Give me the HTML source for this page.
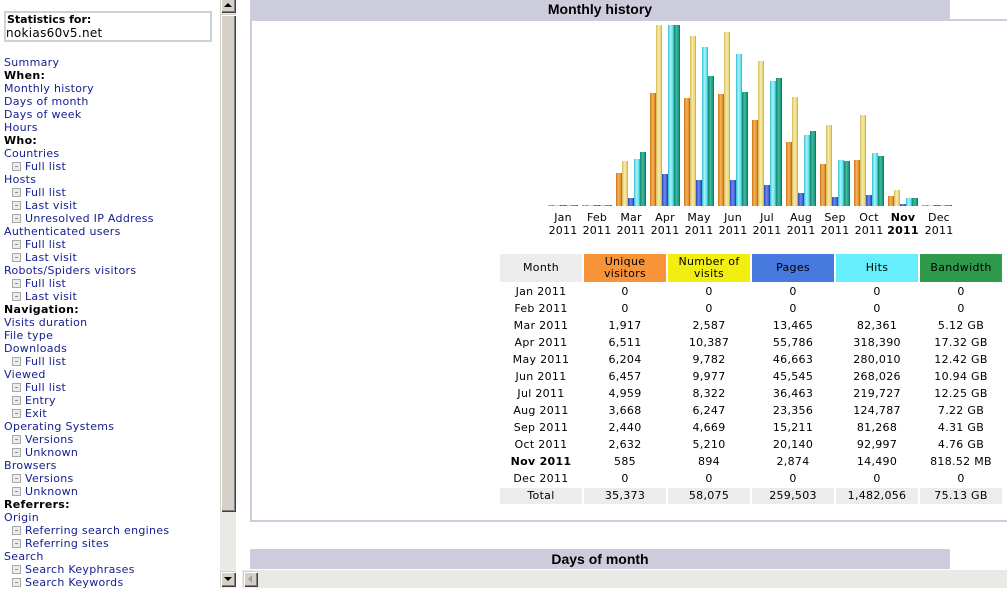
<!DOCTYPE html>
<html><head><meta charset="utf-8">
<style>
body{margin:0;width:1007px;height:588px;overflow:hidden;background:#fff;position:relative;font-family:"DejaVu Sans","Liberation Sans",sans-serif;}
.a{position:absolute;white-space:nowrap;}
#side{position:absolute;left:4px;top:56px;font-size:11px;letter-spacing:0.3px;line-height:13px;color:#15208f;}
#side div{height:13px;position:relative;white-space:nowrap;}
#side .h{color:#000;font-weight:bold;}
#side .sub{padding-left:21px;}
#side .sub i{position:absolute;left:8px;top:2px;width:7px;height:7px;border:1px solid #a8a8a8;background:#ececec;}
#side .sub i:after{content:"";position:absolute;left:2px;top:3px;width:3px;height:1px;background:#909090;}
.bar{position:absolute;bottom:0;width:6px;}
.o{background:linear-gradient(to right,#c87418,#f6b258 40%,#e58e2c 80%,#a65a10);}
.y{background:linear-gradient(to right,#d4bc5c,#f8eaa4 40%,#ead67a 80%,#b89e3e);}
.b{background:linear-gradient(to right,#2646b4,#6a8af0 40%,#4262d8 80%,#1e368e);}
.c{background:linear-gradient(to right,#36bccc,#a4f4fc 40%,#62e0ec 80%,#2ea4b4);}
.t{background:linear-gradient(to right,#0e846c,#42baa2 40%,#1a9a80 80%,#086656);}
.ml{position:absolute;top:211px;width:34px;text-align:center;font-size:11px;line-height:13px;letter-spacing:0.2px;color:#000;}
.cell{position:absolute;width:82px;text-align:center;font-size:11px;letter-spacing:0.3px;color:#000;}
.hd{top:254px;height:28px;display:flex;align-items:center;justify-content:center;line-height:12px;}
.sb{background:#d4d0c8;border-top:1px solid #d4d0c8;border-left:1px solid #d4d0c8;box-shadow:inset 1px 1px 0 #fff,inset -1px -1px 0 #404040,inset -2px -2px 0 #808080;box-sizing:border-box;}
</style></head><body>

<!-- Left frame -->
<div class="a" style="left:4px;top:11px;width:208px;height:31px;border:2px solid #cfcfd6;box-sizing:border-box;"></div>
<div class="a" style="left:7px;top:13px;font-size:11px;font-weight:bold;line-height:13px;color:#000;">Statistics for:</div>
<div class="a" style="left:6px;top:26px;font-size:12px;letter-spacing:0.3px;line-height:14px;color:#000;">nokias60v5.net</div>

<div id="side">
<div>Summary</div>
<div class="h">When:</div>
<div>Monthly history</div>
<div>Days of month</div>
<div>Days of week</div>
<div>Hours</div>
<div class="h">Who:</div>
<div>Countries</div>
<div class="sub"><i></i>Full list</div>
<div>Hosts</div>
<div class="sub"><i></i>Full list</div>
<div class="sub"><i></i>Last visit</div>
<div class="sub"><i></i>Unresolved IP Address</div>
<div>Authenticated users</div>
<div class="sub"><i></i>Full list</div>
<div class="sub"><i></i>Last visit</div>
<div>Robots/Spiders visitors</div>
<div class="sub"><i></i>Full list</div>
<div class="sub"><i></i>Last visit</div>
<div class="h">Navigation:</div>
<div>Visits duration</div>
<div>File type</div>
<div>Downloads</div>
<div class="sub"><i></i>Full list</div>
<div>Viewed</div>
<div class="sub"><i></i>Full list</div>
<div class="sub"><i></i>Entry</div>
<div class="sub"><i></i>Exit</div>
<div>Operating Systems</div>
<div class="sub"><i></i>Versions</div>
<div class="sub"><i></i>Unknown</div>
<div>Browsers</div>
<div class="sub"><i></i>Versions</div>
<div class="sub"><i></i>Unknown</div>
<div class="h">Referrers:</div>
<div>Origin</div>
<div class="sub"><i></i>Referring search engines</div>
<div class="sub"><i></i>Referring sites</div>
<div>Search</div>
<div class="sub"><i></i>Search Keyphrases</div>
<div class="sub"><i></i>Search Keywords</div>
</div>

<!-- vertical scrollbar -->
<div class="a" style="left:220px;top:0;width:16px;height:588px;background:#ebe9e5;"></div>
<div class="a sb" style="left:220px;top:-3px;width:16px;height:16px;"></div>
<div class="a" style="left:224px;top:3px;width:0;height:0;border-left:4px solid transparent;border-right:4px solid transparent;border-bottom:4px solid #000;"></div>
<div class="a sb" style="left:220px;top:14px;width:16px;height:498px;"></div>
<div class="a sb" style="left:220px;top:571px;width:16px;height:16px;"></div>
<div class="a" style="left:224px;top:577px;width:0;height:0;border-left:4px solid transparent;border-right:4px solid transparent;border-top:4px solid #000;"></div>

<!-- horizontal scrollbar -->
<div class="a" style="left:242px;top:570px;width:765px;height:18px;background:#ebe9e5;"></div>
<div class="a sb" style="left:243px;top:571px;width:15px;height:16px;"></div>
<div class="a" style="left:248px;top:575px;width:0;height:0;border-top:4px solid transparent;border-bottom:4px solid transparent;border-right:4px solid #a0a0a0;"></div>

<!-- Right frame: Monthly history -->
<div class="a" style="left:250px;top:0;width:700px;height:19px;background:#ccccdd;"></div>
<div class="a" style="left:250px;top:1px;width:700px;text-align:center;font-family:'Liberation Sans',sans-serif;font-weight:bold;font-size:14px;line-height:17px;color:#000;">Monthly history</div>
<div class="a" style="left:250px;top:19px;width:800px;height:503px;border:2px solid #ccccdd;box-sizing:border-box;"></div>

<!-- chart -->
<div class="a" style="left:548px;top:25px;width:410px;height:181px;">
<!-- Jan -->
<div class="bar o" style="left:0;height:1px"></div><div class="bar y" style="left:6px;height:1px"></div><div class="bar b" style="left:12px;height:1px"></div><div class="bar c" style="left:18px;height:1px"></div><div class="bar t" style="left:24px;height:1px"></div>
<!-- Feb -->
<div class="bar o" style="left:34px;height:1px"></div><div class="bar y" style="left:40px;height:1px"></div><div class="bar b" style="left:46px;height:1px"></div><div class="bar c" style="left:52px;height:1px"></div><div class="bar t" style="left:58px;height:1px"></div>
<!-- Mar -->
<div class="bar o" style="left:68px;height:33px"></div><div class="bar y" style="left:74px;height:45px"></div><div class="bar b" style="left:80px;height:8px"></div><div class="bar c" style="left:86px;height:47px"></div><div class="bar t" style="left:92px;height:54px"></div>
<!-- Apr -->
<div class="bar o" style="left:102px;height:113px"></div><div class="bar y" style="left:108px;height:181px"></div><div class="bar b" style="left:114px;height:32px"></div><div class="bar c" style="left:120px;height:181px"></div><div class="bar t" style="left:126px;height:181px"></div>
<!-- May -->
<div class="bar o" style="left:136px;height:108px"></div><div class="bar y" style="left:142px;height:170px"></div><div class="bar b" style="left:148px;height:26px"></div><div class="bar c" style="left:154px;height:159px"></div><div class="bar t" style="left:160px;height:130px"></div>
<!-- Jun -->
<div class="bar o" style="left:170px;height:112px"></div><div class="bar y" style="left:176px;height:174px"></div><div class="bar b" style="left:182px;height:26px"></div><div class="bar c" style="left:188px;height:152px"></div><div class="bar t" style="left:194px;height:114px"></div>
<!-- Jul -->
<div class="bar o" style="left:204px;height:86px"></div><div class="bar y" style="left:210px;height:145px"></div><div class="bar b" style="left:216px;height:21px"></div><div class="bar c" style="left:222px;height:125px"></div><div class="bar t" style="left:228px;height:128px"></div>
<!-- Aug -->
<div class="bar o" style="left:238px;height:64px"></div><div class="bar y" style="left:244px;height:109px"></div><div class="bar b" style="left:250px;height:13px"></div><div class="bar c" style="left:256px;height:71px"></div><div class="bar t" style="left:262px;height:75px"></div>
<!-- Sep -->
<div class="bar o" style="left:272px;height:42px"></div><div class="bar y" style="left:278px;height:81px"></div><div class="bar b" style="left:284px;height:9px"></div><div class="bar c" style="left:290px;height:46px"></div><div class="bar t" style="left:296px;height:45px"></div>
<!-- Oct -->
<div class="bar o" style="left:306px;height:46px"></div><div class="bar y" style="left:312px;height:91px"></div><div class="bar b" style="left:318px;height:11px"></div><div class="bar c" style="left:324px;height:53px"></div><div class="bar t" style="left:330px;height:50px"></div>
<!-- Nov -->
<div class="bar o" style="left:340px;height:10px"></div><div class="bar y" style="left:346px;height:16px"></div><div class="bar b" style="left:352px;height:2px"></div><div class="bar c" style="left:358px;height:8px"></div><div class="bar t" style="left:364px;height:8px"></div>
<!-- Dec -->
<div class="bar o" style="left:374px;height:1px"></div><div class="bar y" style="left:380px;height:1px"></div><div class="bar b" style="left:386px;height:1px"></div><div class="bar c" style="left:392px;height:1px"></div><div class="bar t" style="left:398px;height:1px"></div>
</div>

<div class="ml" style="left:546px">Jan<br>2011</div>
<div class="ml" style="left:580px">Feb<br>2011</div>
<div class="ml" style="left:614px">Mar<br>2011</div>
<div class="ml" style="left:648px">Apr<br>2011</div>
<div class="ml" style="left:682px">May<br>2011</div>
<div class="ml" style="left:716px">Jun<br>2011</div>
<div class="ml" style="left:750px">Jul<br>2011</div>
<div class="ml" style="left:784px">Aug<br>2011</div>
<div class="ml" style="left:818px">Sep<br>2011</div>
<div class="ml" style="left:852px">Oct<br>2011</div>
<div class="ml" style="left:886px;font-weight:bold">Nov<br>2011</div>
<div class="ml" style="left:922px">Dec<br>2011</div>

<!-- table header -->
<div class="cell hd" style="left:500px;background:#ececec;">Month</div>
<div class="cell hd" style="left:584px;background:#f7943a;">Unique<br>visitors</div>
<div class="cell hd" style="left:668px;background:#f2ef10;">Number of<br>visits</div>
<div class="cell hd" style="left:752px;background:#4779de;">Pages</div>
<div class="cell hd" style="left:836px;background:#66eefc;">Hits</div>
<div class="cell hd" style="left:920px;background:#2f9a4c;">Bandwidth</div>

<!-- table rows -->
<div class="a" style="left:0;top:284px;width:1007px;line-height:15px;">
<div class="cell" style="left:500px;top:0">Jan 2011</div><div class="cell" style="left:584px;top:0">0</div><div class="cell" style="left:668px;top:0">0</div><div class="cell" style="left:752px;top:0">0</div><div class="cell" style="left:836px;top:0">0</div><div class="cell" style="left:920px;top:0">0</div>
<div class="cell" style="left:500px;top:17px">Feb 2011</div><div class="cell" style="left:584px;top:17px">0</div><div class="cell" style="left:668px;top:17px">0</div><div class="cell" style="left:752px;top:17px">0</div><div class="cell" style="left:836px;top:17px">0</div><div class="cell" style="left:920px;top:17px">0</div>
<div class="cell" style="left:500px;top:34px">Mar 2011</div><div class="cell" style="left:584px;top:34px">1,917</div><div class="cell" style="left:668px;top:34px">2,587</div><div class="cell" style="left:752px;top:34px">13,465</div><div class="cell" style="left:836px;top:34px">82,361</div><div class="cell" style="left:920px;top:34px">5.12 GB</div>
<div class="cell" style="left:500px;top:51px">Apr 2011</div><div class="cell" style="left:584px;top:51px">6,511</div><div class="cell" style="left:668px;top:51px">10,387</div><div class="cell" style="left:752px;top:51px">55,786</div><div class="cell" style="left:836px;top:51px">318,390</div><div class="cell" style="left:920px;top:51px">17.32 GB</div>
<div class="cell" style="left:500px;top:68px">May 2011</div><div class="cell" style="left:584px;top:68px">6,204</div><div class="cell" style="left:668px;top:68px">9,782</div><div class="cell" style="left:752px;top:68px">46,663</div><div class="cell" style="left:836px;top:68px">280,010</div><div class="cell" style="left:920px;top:68px">12.42 GB</div>
<div class="cell" style="left:500px;top:85px">Jun 2011</div><div class="cell" style="left:584px;top:85px">6,457</div><div class="cell" style="left:668px;top:85px">9,977</div><div class="cell" style="left:752px;top:85px">45,545</div><div class="cell" style="left:836px;top:85px">268,026</div><div class="cell" style="left:920px;top:85px">10.94 GB</div>
<div class="cell" style="left:500px;top:102px">Jul 2011</div><div class="cell" style="left:584px;top:102px">4,959</div><div class="cell" style="left:668px;top:102px">8,322</div><div class="cell" style="left:752px;top:102px">36,463</div><div class="cell" style="left:836px;top:102px">219,727</div><div class="cell" style="left:920px;top:102px">12.25 GB</div>
<div class="cell" style="left:500px;top:119px">Aug 2011</div><div class="cell" style="left:584px;top:119px">3,668</div><div class="cell" style="left:668px;top:119px">6,247</div><div class="cell" style="left:752px;top:119px">23,356</div><div class="cell" style="left:836px;top:119px">124,787</div><div class="cell" style="left:920px;top:119px">7.22 GB</div>
<div class="cell" style="left:500px;top:136px">Sep 2011</div><div class="cell" style="left:584px;top:136px">2,440</div><div class="cell" style="left:668px;top:136px">4,669</div><div class="cell" style="left:752px;top:136px">15,211</div><div class="cell" style="left:836px;top:136px">81,268</div><div class="cell" style="left:920px;top:136px">4.31 GB</div>
<div class="cell" style="left:500px;top:153px">Oct 2011</div><div class="cell" style="left:584px;top:153px">2,632</div><div class="cell" style="left:668px;top:153px">5,210</div><div class="cell" style="left:752px;top:153px">20,140</div><div class="cell" style="left:836px;top:153px">92,997</div><div class="cell" style="left:920px;top:153px">4.76 GB</div>
<div class="cell" style="left:500px;top:170px;font-weight:bold">Nov 2011</div><div class="cell" style="left:584px;top:170px">585</div><div class="cell" style="left:668px;top:170px">894</div><div class="cell" style="left:752px;top:170px">2,874</div><div class="cell" style="left:836px;top:170px">14,490</div><div class="cell" style="left:920px;top:170px">818.52 MB</div>
<div class="cell" style="left:500px;top:187px">Dec 2011</div><div class="cell" style="left:584px;top:187px">0</div><div class="cell" style="left:668px;top:187px">0</div><div class="cell" style="left:752px;top:187px">0</div><div class="cell" style="left:836px;top:187px">0</div><div class="cell" style="left:920px;top:187px">0</div>
<div class="cell" style="left:500px;top:204px;height:16px;line-height:16px;background:#ececec">Total</div><div class="cell" style="left:584px;top:204px;height:16px;line-height:16px;background:#ececec">35,373</div><div class="cell" style="left:668px;top:204px;height:16px;line-height:16px;background:#ececec">58,075</div><div class="cell" style="left:752px;top:204px;height:16px;line-height:16px;background:#ececec">259,503</div><div class="cell" style="left:836px;top:204px;height:16px;line-height:16px;background:#ececec">1,482,056</div><div class="cell" style="left:920px;top:204px;height:16px;line-height:16px;background:#ececec">75.13 GB</div>
</div>

<!-- Days of month title -->
<div class="a" style="left:250px;top:549px;width:700px;height:20px;background:#ccccdd;"></div>
<div class="a" style="left:250px;top:550px;width:700px;text-align:center;font-family:'Liberation Sans',sans-serif;font-weight:bold;font-size:14px;line-height:18px;color:#000;">Days of month</div>

</body></html>
